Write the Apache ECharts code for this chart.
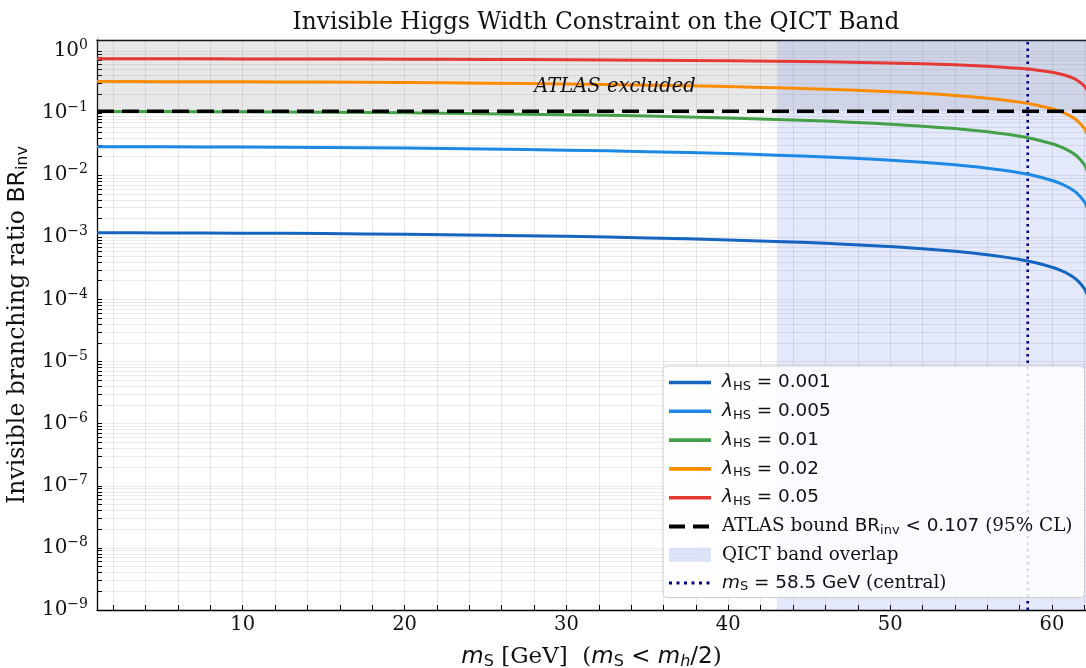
<!DOCTYPE html>
<html>
<head>
<meta charset="utf-8">
<script src="https://cdn.jsdelivr.net/npm/echarts@6/dist/echarts.min.js"></script>
<style>
html,body{margin:0;padding:0;background:#fff;}
#main{width:1086px;height:668px;}
</style>
</head>
<body>
<div id="main"></div>
<script>
// 标量质量 m_S [GeV]
var massGeV = [1, 5, 10, 15, 20, 25, 30, 35, 40, 43, 46, 49, 52, 54, 56, 57, 58, 59, 60, 60.5, 61, 61.5, 62, 62.3, 62.45];
// BR_inv 读图
var brLam0001 = [1.18e-3, 1.176e-3, 1.165e-3, 1.146e-3, 1.118e-3, 1.081e-3, 1.035e-3, 0.978e-3, 0.907e-3, 0.856e-3, 0.799e-3, 0.733e-3, 0.655e-3, 0.594e-3, 0.524e-3, 0.484e-3, 0.440e-3, 0.389e-3, 0.330e-3, 0.296e-3, 0.257e-3, 0.210e-3, 0.149e-3, 0.094e-3, 0.047e-3];
var brLam0005 = [0.02873, 0.02864, 0.02837, 0.02792, 0.02726, 0.0264, 0.0253, 0.02392, 0.02223, 0.02102, 0.01963, 0.01803, 0.01615, 0.01468, 0.01296, 0.01199, 0.0109, 0.00967, 0.00821, 0.00737, 0.0064, 0.00524, 0.00372, 0.00236, 0.00118];
var brLam001 = [0.1058, 0.10549, 0.10457, 0.10302, 0.10079, 0.09782, 0.09403, 0.08927, 0.08333, 0.07906, 0.07416, 0.06842, 0.06159, 0.05622, 0.04991, 0.04628, 0.04222, 0.03757, 0.03206, 0.02884, 0.02512, 0.02062, 0.01471, 0.00938, 0.00471];
var brLam002 = [0.3212, 0.3205, 0.3184, 0.3148, 0.3095, 0.3025, 0.2934, 0.2816, 0.2667, 0.2556, 0.2426, 0.2271, 0.2079, 0.1924, 0.1736, 0.1626, 0.1499, 0.1351, 0.117, 0.1062, 0.0934, 0.0777, 0.0564, 0.0365, 0.0186];
var brLam005 = [0.7474, 0.7468, 0.7449, 0.7417, 0.737, 0.7305, 0.7219, 0.7102, 0.6945, 0.6822, 0.667, 0.6474, 0.6214, 0.5983, 0.5678, 0.5482, 0.5243, 0.494, 0.4531, 0.4261, 0.3918, 0.3449, 0.2718, 0.1914, 0.1058];

var atlasBound = 0.107;
var qictBand = [43, 62.5];
var msCentral = 58.5;
var xRange = [1, 62.1];
var yRange = [1e-9, 1.5];
var xLabelTicks = [10, 20, 30, 40, 50, 60];
var yLabelTicks = [1e-9, 1e-8, 1e-7, 1e-6, 1e-5, 1e-4, 1e-3, 1e-2, 1e-1, 1];

var names = ['lam0.001', 'lam0.005', 'lam0.01', 'lam0.02', 'lam0.05', 'atlas', 'qict', 'ms'];
var colors = ['#1565c0', '#1e88e5', '#43a047', '#fb8c00', '#e53935'];
var curves = [brLam0001, brLam0005, brLam001, brLam002, brLam005];
var lamText = ['0.001', '0.005', '0.01', '0.02', '0.05'];

// 次刻度
var xMinor = [];
for (var t = 2; t <= 62; t += 2) xMinor.push(t);
var yMinor = [];
for (var e = -9; e <= 0; e++) {
    for (var k = 1; k <= 9; k++) {
        var v = k * Math.pow(10, e);
        if (v <= yRange[1]) yMinor.push(v);
    }
}

function pairs(xs, ys) {
    return xs.map(function (x, i) { return [x, ys[i]]; });
}

var serif = 'DejaVu Serif';
var sans = 'DejaVu Sans';
var richText = {
    it: { fontFamily: sans, fontStyle: 'italic', fontSize: 18.4, color: '#111', lineHeight: 20 },
    sub: { fontFamily: sans, fontSize: 13, color: '#111', lineHeight: 20, padding: [8, 0, 0, 0] },
    sans: { fontFamily: sans, fontSize: 18.4, color: '#111', lineHeight: 20 },
    serif: { fontFamily: serif, fontSize: 18.4, color: '#111', lineHeight: 20 }
};

var series = [];
curves.forEach(function (c, i) {
    series.push({
        name: names[i],
        type: 'line',
        data: pairs(massGeV, c),
        symbol: 'none',
        smooth: 0.3,
        lineStyle: { color: colors[i], width: 3 },
        itemStyle: { color: colors[i] },
        z: 3
    });
});
series.push({
    name: 'atlas',
    type: 'line',
    data: [[xRange[0], atlasBound], [xRange[1], atlasBound]],
    symbol: 'none',
    lineStyle: { color: '#000', width: 3.4, type: [17, 8] },
    itemStyle: { color: '#000' },
    z: 3,
    markArea: {
        silent: true,
        itemStyle: { color: 'rgba(128,128,128,0.18)' },
        data: [[{ yAxis: atlasBound }, { yAxis: yRange[1] }]]
    },
    markPoint: {
        symbol: 'circle',
        symbolSize: 1,
        itemStyle: { color: 'rgba(0,0,0,0)' },
        label: {
            show: true, position: 'inside', formatter: 'ATLAS excluded',
            fontFamily: serif, fontStyle: 'italic', fontSize: 19.5, color: '#111'
        },
        data: [{ coord: [33, 0.265] }]
    }
});
series.push({
    name: 'qict',
    type: 'line',
    data: [],
    symbol: 'none',
    itemStyle: { color: 'rgba(65,105,225,0.18)' },
    markArea: {
        silent: true,
        itemStyle: { color: 'rgba(65,105,225,0.15)' },
        data: [[{ xAxis: qictBand[0] }, { xAxis: qictBand[1] }]]
    }
});
series.push({
    name: 'ms',
    type: 'line',
    data: [[msCentral, yRange[0]], [msCentral, yRange[1]]],
    symbol: 'none',
    lineStyle: { color: '#00008b', width: 2.6, type: [2.5, 4] },
    itemStyle: { color: '#00008b' },
    z: 2
});

var legendLabels = {
    'atlas': '{serif|ATLAS bound }{sans|BR}{sub|inv}{sans| < 0.107 }{serif|(95% CL)}',
    'qict': '{serif|QICT band overlap}',
    'ms': '{it|m}{sub|S}{sans| = 58.5 GeV }{serif|(central)}'
};
lamText.forEach(function (s, i) {
    legendLabels[names[i]] = '{it|λ}{sub|HS}{sans| = ' + s + '}';
});

var myChart = echarts.init(document.getElementById('main'));
var option = {
    animation: false,
    backgroundColor: '#fff',
    title: {
        text: 'Invisible Higgs Width Constraint on the QICT Band',
        left: 591, top: 6, textAlign: 'center',
        textStyle: { fontFamily: serif, fontWeight: 'normal', fontSize: 23.3, color: '#111' }
    },
    grid: { left: 97, top: 40, right: 0, height: 570, containLabel: false, outerBoundsMode: 'none' },
    legend: {
        orient: 'vertical',
        left: 663, top: 366,
        z: 20,
        padding: [6, 12, 4, 4],
        itemWidth: 42, itemHeight: 14, itemGap: 7.8,
        backgroundColor: 'rgba(255,255,255,0.85)',
        borderColor: '#cccccc', borderWidth: 1, borderRadius: 4,
        itemStyle: { opacity: 0 },
        data: names.map(function (n, i) {
            if (n === 'qict') return { name: n, icon: 'rect', itemStyle: { opacity: 1, color: 'rgba(65,105,225,0.18)' } };
            if (n === 'atlas') return { name: n, lineStyle: { width: 4, type: [16, 8] } };
            if (n === 'ms') return { name: n, lineStyle: { width: 3, type: [3, 4.5] } };
            return { name: n, lineStyle: { width: 3.6 } };
        }),
        formatter: function (n) { return legendLabels[n]; },
        textStyle: { lineHeight: 20, padding: [0, 0, 0, 6], rich: richText }
    },
    xAxis: [{
        type: 'value',
        min: xRange[0], max: xRange[1],
        position: 'bottom',
        name: '{it|m}{sub|S}{serif| [GeV]  (}{it|m}{sub|S}{sans| < }{it|m}{subi|h}{sans|/2}{serif|)}',
        nameLocation: 'middle', nameGap: 34,
        nameTextStyle: {
            rich: {
                it: { fontFamily: sans, fontStyle: 'italic', fontSize: 23, color: '#111' },
                sub: { fontFamily: sans, fontSize: 16, color: '#111', padding: [10, 0, 0, 0] },
                subi: { fontFamily: sans, fontStyle: 'italic', fontSize: 16, color: '#111', padding: [10, 0, 0, 0] },
                sans: { fontFamily: sans, fontSize: 23, color: '#111' },
                serif: { fontFamily: serif, fontSize: 23, color: '#111' }
            }
        },
        axisLine: { show: true, lineStyle: { color: '#000', width: 1.3 } },
        axisTick: { show: true, inside: true, length: 5, customValues: xMinor, lineStyle: { color: '#000' } },
        axisLabel: {
            customValues: xLabelTicks, margin: 5,
            fontFamily: serif, fontSize: 19.5, color: '#111'
        },
        splitLine: { show: true, lineStyle: { color: 'rgba(0,0,0,0.09)', width: 1 } }
    }, {
        type: 'value',
        min: xRange[0], max: xRange[1],
        position: 'top',
        axisLine: { show: true, lineStyle: { color: '#000', width: 1.3 } },
        axisTick: { show: false },
        axisLabel: { show: false },
        splitLine: { show: false }
    }],
    yAxis: [{
        type: 'log',
        logBase: 10,
        min: yRange[0], max: yRange[1],
        name: '{serif|Invisible branching ratio }{sans|BR}{sub|inv}',
        nameLocation: 'middle', nameGap: 55, nameRotate: 90,
        nameTextStyle: {
            rich: {
                serif: { fontFamily: serif, fontSize: 23.5, color: '#111' },
                sans: { fontFamily: sans, fontSize: 23.5, color: '#111' },
                sub: { fontFamily: sans, fontSize: 16, color: '#111', padding: [10, 0, 0, 0] }
            }
        },
        axisLine: { show: true, lineStyle: { color: '#000', width: 1.3 } },
        axisTick: { show: true, inside: true, length: 5, customValues: yMinor, lineStyle: { color: '#000' } },
        axisLabel: {
            customValues: yLabelTicks, margin: 9,
            formatter: function (v) {
                var p = Math.round(Math.log10(v));
                return '{b|10}{s|' + (p < 0 ? '\u2212' + (-p) : p) + '}';
            },
            rich: {
                b: { fontFamily: serif, fontSize: 20, color: '#111' },
                s: { fontFamily: serif, fontSize: 14, color: '#111', padding: [0, 0, 11, 0] }
            }
        },
        splitLine: { show: true, lineStyle: { color: 'rgba(0,0,0,0.08)', width: 1 } }
    }],
    series: series
};
myChart.setOption(option);
</script>
</body>
</html>
